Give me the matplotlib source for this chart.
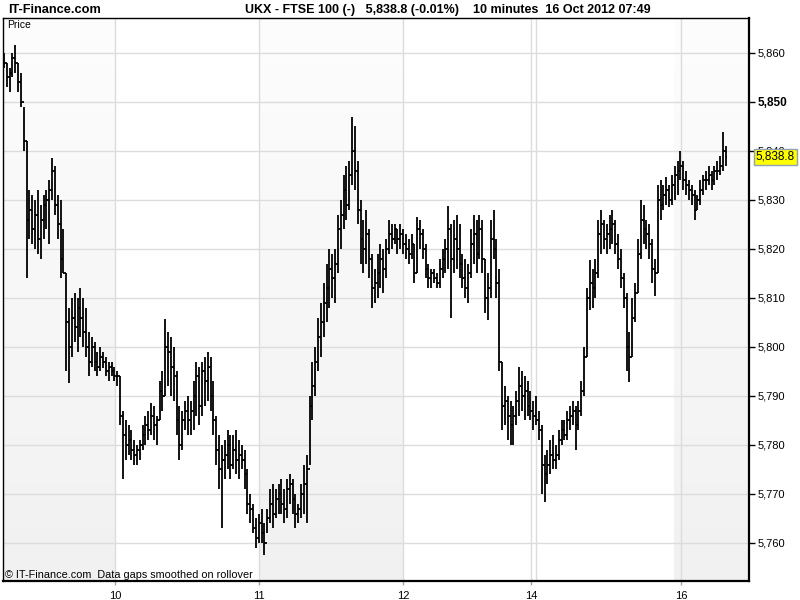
import matplotlib
matplotlib.use('Agg')
import matplotlib.pyplot as plt
import matplotlib.transforms as mtrans
import numpy as np
from matplotlib.collections import LineCollection

# ---- data (10-minute OHLC bars, FTSE 100) ----
first_open = 5860
highs = [
    5860, 5858, 5857, 5860, 5861.6, 5858, 5856, 5849, 5842, 5832,
    5831, 5830, 5832, 5829, 5831, 5832, 5834, 5838.6, 5837, 5831,
    5830, 5824, 5815, 5808, 5810, 5811, 5810, 5812, 5810, 5808,
    5803, 5802, 5801, 5799, 5800, 5799, 5798, 5797, 5797, 5796,
    5795, 5794, 5787, 5785, 5784, 5783, 5781, 5780, 5781, 5784,
    5786, 5787, 5788.6, 5788, 5786, 5793, 5795, 5805.7, 5803, 5802,
    5800, 5795, 5788, 5787, 5789, 5790, 5789, 5793, 5797, 5796,
    5797, 5798, 5799, 5798, 5793, 5786, 5782, 5780, 5781, 5783,
    5782, 5782, 5783, 5781, 5780, 5779, 5775, 5770, 5768, 5765,
    5766, 5767, 5764, 5767, 5771, 5772, 5771, 5772, 5773, 5771,
    5773, 5774, 5773, 5770, 5768, 5772, 5776, 5778, 5790, 5797,
    5800, 5806, 5809, 5813, 5817, 5820, 5819, 5820, 5827, 5830,
    5835, 5837, 5838, 5847, 5845, 5838, 5830, 5826, 5828, 5824,
    5819, 5816, 5819, 5821, 5820, 5822, 5826, 5825, 5825, 5824,
    5825, 5824, 5823, 5822, 5823, 5821, 5826.5, 5826, 5824, 5821,
    5817, 5816, 5816, 5815, 5818, 5820, 5822, 5828.8, 5825, 5826,
    5827, 5825, 5819, 5818, 5817, 5824, 5827, 5826, 5827, 5826,
    5818, 5815, 5826, 5828, 5822, 5816, 5797, 5792, 5790, 5789,
    5788, 5791, 5796, 5795, 5794, 5793, 5791, 5789, 5790, 5787,
    5784, 5778, 5779, 5781, 5782, 5780, 5783, 5785, 5785, 5787,
    5788, 5789, 5788, 5789, 5793, 5800, 5812, 5817.8, 5816, 5818,
    5826, 5828, 5826, 5825, 5827, 5828, 5826, 5823, 5820, 5815,
    5811, 5803, 5810, 5813, 5822, 5830, 5829, 5826, 5825, 5822,
    5818, 5833, 5834, 5833, 5834.7, 5833, 5835, 5837, 5838, 5840,
    5838, 5836, 5834, 5833, 5832, 5831, 5834, 5835, 5836, 5837,
    5836, 5837, 5838, 5839, 5843.9, 5841,
]
lows = [
    5857, 5853, 5852, 5855, 5856, 5852, 5849, 5840, 5814, 5822,
    5821, 5820, 5819, 5818, 5822, 5824, 5821, 5830, 5827, 5822,
    5814, 5815, 5795, 5792.6, 5798, 5801, 5799, 5802, 5800, 5798,
    5794, 5796, 5795, 5794, 5795, 5795.7, 5794, 5793, 5794, 5793,
    5792, 5784, 5773, 5777, 5778, 5777, 5776, 5776, 5777, 5779,
    5780, 5781, 5782, 5781, 5780, 5785, 5787, 5790, 5792, 5790,
    5789, 5782, 5777, 5779, 5783, 5782, 5782, 5783, 5786, 5784,
    5786, 5788, 5789, 5787, 5782, 5776, 5771, 5763, 5773, 5775,
    5773, 5775, 5774, 5773, 5775, 5771, 5766, 5764, 5762, 5759,
    5760, 5760, 5757.6, 5762, 5764, 5763, 5765, 5766, 5766, 5764,
    5765, 5768, 5766, 5763, 5764, 5765, 5766, 5764, 5776, 5785,
    5790, 5795, 5798, 5802, 5805, 5808, 5810, 5809, 5815, 5820,
    5824, 5826, 5828, 5833, 5832, 5825, 5817, 5815, 5817, 5814,
    5808, 5809, 5810, 5812, 5811, 5814, 5819, 5820, 5821, 5819,
    5820, 5819, 5818, 5817, 5818, 5813, 5815, 5820, 5818, 5814,
    5812, 5812, 5813, 5812, 5812, 5814, 5815, 5816, 5806, 5815,
    5816, 5814, 5812, 5810, 5809, 5814, 5817, 5815, 5818, 5815,
    5807, 5805.5, 5810, 5818, 5810, 5795, 5783, 5784, 5781, 5780,
    5780, 5784, 5786, 5787, 5785, 5786, 5785, 5783, 5784, 5781,
    5770, 5768.4, 5772, 5774, 5775, 5775, 5777, 5780, 5781, 5781,
    5783, 5784, 5779, 5783, 5786, 5790, 5798, 5807.5, 5808, 5810,
    5814, 5819, 5820, 5819, 5820, 5821, 5819, 5816, 5812, 5808,
    5795, 5792.9, 5798, 5805, 5811, 5818, 5821, 5820, 5818, 5813,
    5810.5, 5815, 5826, 5828, 5829, 5828.6, 5829, 5830, 5831, 5834,
    5832, 5831, 5830, 5829, 5826, 5828, 5829, 5831, 5832, 5833,
    5832, 5833, 5834, 5835, 5836, 5837,
]
closes = [
    5858, 5855, 5856, 5859, 5858, 5854, 5850, 5842, 5826, 5828,
    5824, 5827, 5822, 5826, 5829, 5830, 5832, 5836, 5829, 5825,
    5818, 5815, 5805, 5800, 5806, 5804, 5808, 5806, 5803, 5800,
    5797, 5800, 5797, 5796, 5798, 5797, 5795, 5796, 5795, 5794,
    5794, 5786, 5782, 5780, 5781, 5779, 5778, 5779, 5780, 5782,
    5784, 5783, 5786, 5784, 5785, 5791, 5790, 5800, 5799, 5796,
    5794, 5785, 5780, 5785, 5787, 5785, 5787, 5790, 5794, 5788,
    5795, 5793, 5796, 5790, 5785, 5779, 5775, 5777, 5778, 5780,
    5776, 5779, 5777, 5778, 5777, 5774, 5768, 5767, 5763, 5761,
    5764, 5762, 5760, 5765, 5768, 5766, 5769, 5770, 5768, 5767,
    5771, 5772, 5769, 5766, 5767, 5770, 5772, 5775, 5788, 5792,
    5797, 5802, 5805, 5809, 5812, 5816, 5814, 5817, 5824, 5827,
    5832, 5829, 5835, 5840, 5836, 5828, 5822, 5820, 5823, 5818,
    5812, 5813, 5815, 5818, 5816, 5820, 5823, 5822, 5824, 5822,
    5823, 5821, 5820, 5819, 5821, 5815, 5824, 5823, 5820, 5816,
    5814, 5815, 5814, 5813, 5816, 5818, 5820, 5824, 5818, 5822,
    5820, 5817, 5814, 5812, 5815, 5821, 5823, 5819, 5824, 5818,
    5810, 5812, 5822, 5820, 5813, 5797, 5788, 5789, 5786, 5784,
    5786, 5789, 5792, 5790, 5791, 5788, 5787, 5786, 5785, 5783,
    5776, 5774, 5776, 5778, 5777, 5778, 5781, 5783, 5782, 5785,
    5786, 5787, 5784, 5787, 5791, 5798, 5810, 5813, 5812, 5815,
    5823, 5825, 5822, 5823, 5824, 5825, 5821, 5818, 5814, 5810,
    5800, 5798, 5806, 5811, 5819, 5826, 5824, 5823, 5821, 5816,
    5815, 5830, 5829, 5831, 5832, 5830, 5833, 5835, 5836, 5837,
    5834, 5833, 5832, 5831, 5828, 5830, 5832, 5834, 5834, 5835,
    5834, 5836, 5836, 5837, 5840, 5838.8,
]
day_tick_pos = [39.2, 90.1, 141.0, 186.2, 239.2]
day_tick_labels = ['10', '11', '12', '14', '16']
extra_day_lines = [188.0]
shade_spans = [(-0.35, 39.2), (90.1, 141.0), (236.7, 263.3)]
price_ticks = list(range(5760, 5861, 10))
bold_tick = 5850
last_price = 5838.8
header = 'UKX - FTSE 100 (-)   5,838.8 (-0.01%)    10 minutes  16 Oct 2012 07:49'

NARROW = ['Liberation Sans Narrow', 'Liberation Sans', 'DejaVu Sans']
SANS = ['Liberation Sans', 'DejaVu Sans']

fig = plt.figure(figsize=(8, 6), dpi=100)
fig.patch.set_facecolor('white')
ax = fig.add_axes([3/800, 19/600, 746/800, 563/600])
xlim = (-0.35, 263.25)
ylim = (5752.24, 5867.14)

# shaded day bands (vertical gradient)
grad = np.linspace(0, 1, 100)[:, None]
top = np.array([0.992, 0.992, 0.992])
bot = np.array([0.945, 0.945, 0.945])
img = top[None, None, :] * (1 - grad[:, :, None]) + bot[None, None, :] * grad[:, :, None]
for x0, x1 in shade_spans:
    ax.imshow(img, extent=(x0, x1, ylim[0], ylim[1]), aspect='auto',
              origin='upper', zorder=0, interpolation='bilinear')

# grid
for p in price_ticks:
    ax.axhline(p, color='#dcdcdc', lw=1, zorder=1)
for x in day_tick_pos + extra_day_lines:
    ax.axvline(x, color='#dcdcdc', lw=1, zorder=1)

# OHLC bars
n = len(closes)
opens = [first_open] + closes[:-1]
segs = []
w = 0.5
for i in range(n):
    segs.append([(i, lows[i]), (i, highs[i])])
    segs.append([(i - w, opens[i]), (i, opens[i])])
    segs.append([(i, closes[i]), (i + w, closes[i])])
lc = LineCollection(segs, colors='black', linewidths=1.3, zorder=3, antialiased=True)
ax.add_collection(lc)

ax.set_xlim(*xlim)
ax.set_ylim(*ylim)

# axes styling
for s in ['top', 'left']:
    ax.spines[s].set_linewidth(1.0)
for s in ['right', 'bottom']:
    ax.spines[s].set_linewidth(1.6)
for s in ax.spines.values():
    s.set_color('black')

ax.yaxis.tick_right()
ax.set_yticks(price_ticks)
ax.set_yticklabels([f'{p:,}' for p in price_ticks])
ax.tick_params(axis='y', direction='out', length=4, width=1, labelsize=8, pad=2)
for lab, p in zip(ax.get_yticklabels(), price_ticks):
    lab.set_family(SANS)
    if p == bold_tick:
        lab.set_fontweight('bold')
        lab.set_fontsize(8.5)

ax.set_xticks(day_tick_pos)
ax.set_xticklabels(day_tick_labels)
ax.tick_params(axis='x', direction='out', length=3, width=1, color='#a0a8b0',
               labelsize=8, pad=4)
for lab in ax.get_xticklabels():
    lab.set_family(SANS)

# last price box
tr = mtrans.blended_transform_factory(ax.transAxes, ax.transData)
ax.text(1.009, last_price, f'{last_price:,.1f}', transform=tr, ha='left', va='center',
        fontsize=8.5, family=SANS, zorder=10, clip_on=False,
        bbox=dict(boxstyle='square,pad=0.18', fc='#ffff00', ec='#8fa0b4', lw=1))

# texts
ax.text(4/746, (581-25)/563, 'Price', transform=ax.transAxes, ha='left', va='center',
        fontsize=7.5, family=SANS, zorder=5)
ax.text(2/746, (581-575)/563, '\u00a9 IT-Finance.com  Data gaps smoothed on rollover',
        transform=ax.transAxes, ha='left', va='center', fontsize=7.8, family=NARROW, zorder=5)
fig.text(8/800, 1 - 10/600, 'IT-Finance.com', ha='left', va='center', fontsize=9.2,
         family=NARROW, fontweight='bold')
fig.text(448/800, 1 - 10/600, header, ha='center', va='center', fontsize=9,
         family=NARROW, fontweight='bold')

fig.savefig('out.png', dpi=100)
